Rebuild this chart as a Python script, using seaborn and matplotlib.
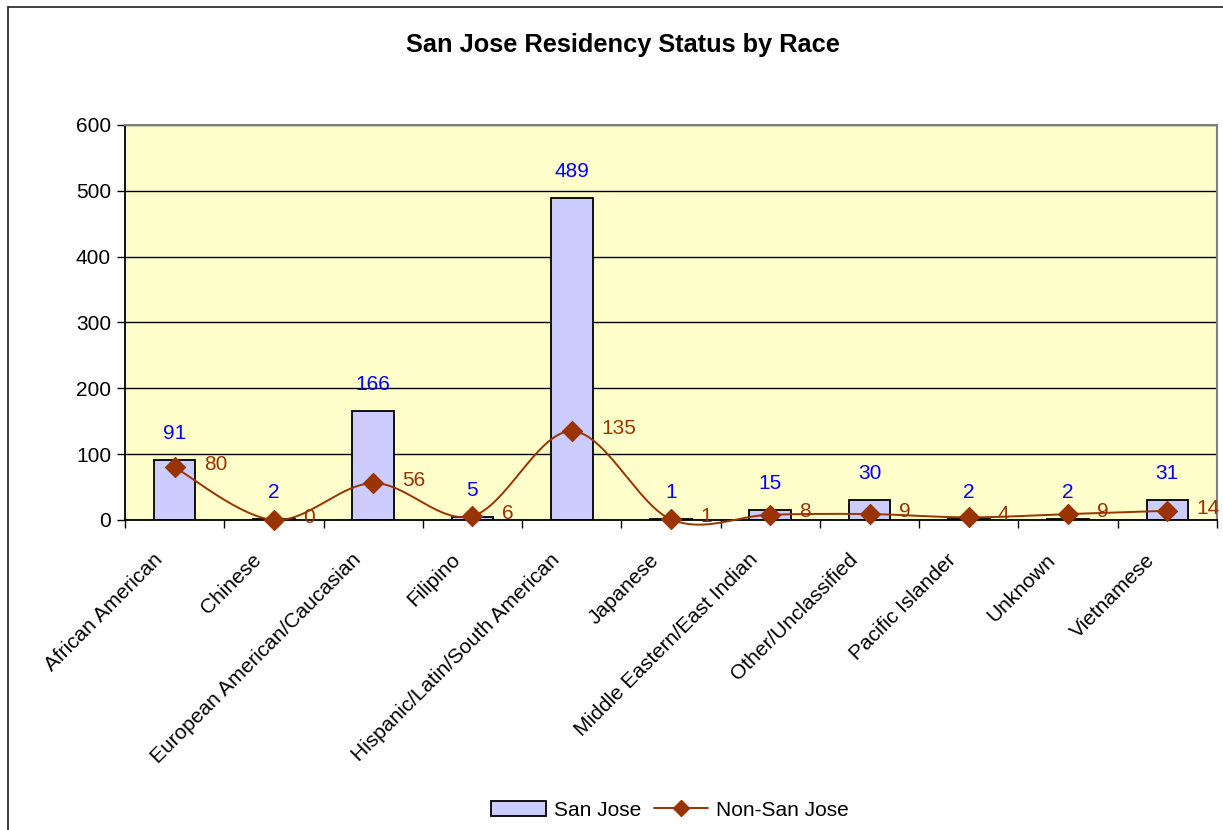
import numpy as np
import pandas as pd
import matplotlib
matplotlib.use("Agg")
import matplotlib.pyplot as plt
import seaborn as sns
from matplotlib.lines import Line2D
from matplotlib.patches import Patch

# данные
races = [
    "African American",
    "Chinese",
    "European American/Caucasian",
    "Filipino",
    "Hispanic/Latin/South American",
    "Japanese",
    "Middle Eastern/East Indian",
    "Other/Unclassified",
    "Pacific Islander",
    "Unknown",
    "Vietnamese",
]
san_jose = [91, 2, 166, 5, 489, 1, 15, 30, 2, 2, 31]
non_san_jose = [80, 0, 56, 6, 135, 1, 8, 9, 4, 9, 14]
y_ticks = [0, 100, 200, 300, 400, 500, 600]

BAR_COLOR = "#CCCCFF"
LINE_COLOR = "#993300"
BG_COLOR = "#FFFFCC"

df = pd.DataFrame({"race": races, "sj": san_jose, "nsj": non_san_jose})

sns.set_theme(style="white")
plt.rcParams["font.family"] = ["Liberation Sans", "DejaVu Sans"]
plt.rcParams["text.color"] = "black"
plt.rcParams["xtick.color"] = "black"
plt.rcParams["ytick.color"] = "black"
FS = 15

fig = plt.figure(figsize=(12.23, 8.30), dpi=100)
ax = fig.add_axes([0.1022, 0.3735, 0.8929, 0.4759])
ax.set_facecolor(BG_COLOR)

# столбцы
sns.barplot(
    data=df, x="race", y="sj", order=races, color=BAR_COLOR, saturation=1,
    width=0.42, edgecolor="black", linewidth=1.3, ax=ax, zorder=2,
)

# сглаженная линия (как в Excel: кривые Безье с контрольными точками 1/6)
x = np.arange(len(races), dtype=float)
y = np.array(non_san_jose, dtype=float)
px = np.concatenate([[x[0]], x, [x[-1]]])
py = np.concatenate([[y[0]], y, [y[-1]]])
t = np.linspace(0, 1, 40)
cx, cy = [], []
for i in range(1, len(px) - 2):
    p0 = np.array([px[i], py[i]])
    p3 = np.array([px[i + 1], py[i + 1]])
    c1 = p0 + (np.array([px[i + 1], py[i + 1]]) - np.array([px[i - 1], py[i - 1]])) / 6
    c2 = p3 - (np.array([px[i + 2], py[i + 2]]) - np.array([px[i], py[i]])) / 6
    b = ((1 - t) ** 3)[:, None] * p0 + (3 * (1 - t) ** 2 * t)[:, None] * c1 \
        + (3 * (1 - t) * t ** 2)[:, None] * c2 + (t ** 3)[:, None] * p3
    cx.extend(b[:, 0])
    cy.extend(b[:, 1])
ax.plot(cx, cy, color=LINE_COLOR, lw=1.4, zorder=7, clip_on=False)
sns.scatterplot(
    x=x, y=y, marker="D", s=105, color=LINE_COLOR, edgecolor=LINE_COLOR,
    ax=ax, zorder=8, legend=False, clip_on=False,
)

# подписи значений
for i, (a, b) in enumerate(zip(san_jose, non_san_jose)):
    ax.annotate(str(a), (i, a), xytext=(0, 19), textcoords="offset points",
                ha="center", va="center", color="blue", fontsize=FS, zorder=9)
    ax.annotate(str(b), (i, b), xytext=(21, 2), textcoords="offset points",
                ha="left", va="center", color=LINE_COLOR, fontsize=FS, zorder=9)

# оси
ax.set_xlim(-0.5, len(races) - 0.5)
ax.set_ylim(0, 600)
ax.set_yticks(y_ticks)
ax.set_yticklabels([str(v) for v in y_ticks], fontsize=FS)
ax.yaxis.grid(True, color="black", lw=1)
ax.set_axisbelow(True)
ax.set_xlabel("")
ax.set_ylabel("")
# подписи категорий - вручную, чтобы сдвинуть как в Excel
ax.set_xticks(np.arange(-0.5, len(races), 1.0))
ax.set_xticklabels([])
for i, name in enumerate(races):
    ax.annotate(name, (i, 0), xycoords=("data", "axes fraction"), xytext=(-11, -26.5),
                textcoords="offset points", rotation=45, rotation_mode="anchor",
                ha="right", va="center", fontsize=FS, annotation_clip=False)
ax.tick_params(axis="x", length=6, width=1, color="black", direction="out", bottom=True)
ax.tick_params(axis="y", length=6, width=1, color="black", direction="out", left=True, pad=4)
for side in ["left", "bottom"]:
    ax.spines[side].set_color("black")
    ax.spines[side].set_linewidth(1.3)
for side in ["top", "right"]:
    ax.spines[side].set_color("#808080")
    ax.spines[side].set_linewidth(1.5)
ax.spines["bottom"].set_zorder(6)

fig.text(0.509, 0.946, "San Jose Residency Status by Race", ha="center", va="center",
         fontsize=18.3, fontweight="bold")

handles = [
    Patch(facecolor=BAR_COLOR, edgecolor="black", lw=1.3, label="San Jose"),
    Line2D([0], [0], color=LINE_COLOR, lw=1.4, marker="D", markersize=8, label="Non-San Jose"),
]
fig.legend(handles=handles, loc="center", bbox_to_anchor=(0.548, 0.024), ncol=2,
           frameon=False, fontsize=FS, handlelength=2.6, columnspacing=0.6, handletextpad=0.4)

# рамка диаграммы
fig.add_artist(Line2D([0.0065, 0.0065], [0, 0.9916], color="#333333", lw=1.3))
fig.add_artist(Line2D([0.0065, 1], [0.9916, 0.9916], color="#333333", lw=1.3))

fig.savefig("out.png", dpi=100, facecolor="white")
